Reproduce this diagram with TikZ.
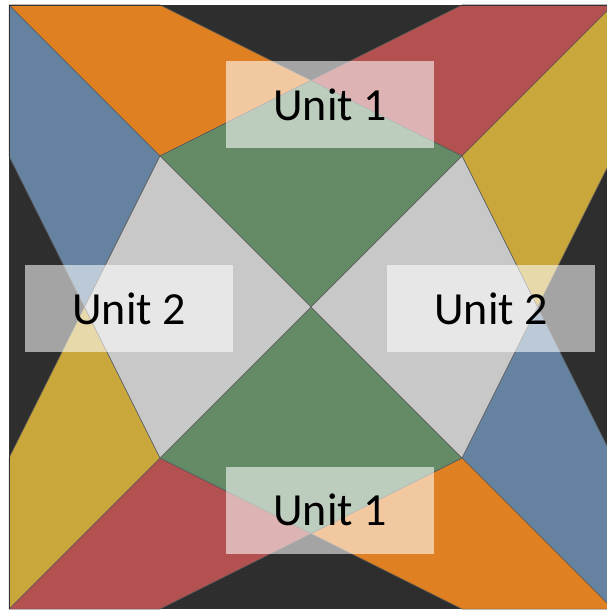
\documentclass[tikz,border=0pt]{standalone}
\usepackage{fontspec}
\setmainfont{Carlito}
\usepackage{tikz}
\usetikzlibrary{positioning}
\definecolor{qdark}{HTML}{2E2E2E}
\definecolor{qorange}{HTML}{DF8022}
\definecolor{qblue}{HTML}{6583A0}
\definecolor{qred}{HTML}{B35050}
\definecolor{qyellow}{HTML}{C9A73A}
\definecolor{qgreen}{HTML}{658B66}
\definecolor{qgray}{HTML}{C8C8C8}

\begin{document}
\begin{tikzpicture}[
  x=1pt, y=-1pt,
  patch/.style={draw=black!65, line width=0.5pt, line join=round},
  unitlbl/.style={fill=white, fill opacity=0.57, text opacity=1, text=black, minimum width=208pt, minimum height=87pt, inner sep=0pt, font=\fontsize{46}{46}\selectfont}
]
  \useasboundingbox (0,0) rectangle (607,610);
  \clip (0,0) rectangle (607,610);

  % block corners and grid points (one unit = 151px)
  \coordinate (tl) at (9,5);      \coordinate (tr) at (613,5);
  \coordinate (bl) at (9,609);    \coordinate (br) at (613,609);
  \coordinate (ctr) at (311,307);
  \coordinate (o1) at (160,156);  \coordinate (o2) at (462,156);
  \coordinate (o3) at (462,458);  \coordinate (o4) at (160,458);
  \coordinate (pt) at (311,80.5); \coordinate (pb) at (311,533.5);
  \coordinate (pl) at (84.5,307); \coordinate (pr) at (537.5,307);

  \fill[qdark] (tl) rectangle (br);

  % outer star points
  \draw[patch, fill=qorange] (tl) -- (160,5) -- (pt) -- (o1) -- cycle;
  \draw[patch, fill=qred] (462,5) -- (tr) -- (o2) -- (pt) -- cycle;
  \draw[patch, fill=qyellow] (tr) -- (613,156) -- (pr) -- (o2) -- cycle;
  \draw[patch, fill=qblue] (613,458) -- (br) -- (o3) -- (pr) -- cycle;
  \draw[patch, fill=qorange] (br) -- (462,609) -- (pb) -- (o3) -- cycle;
  \draw[patch, fill=qred] (160,609) -- (bl) -- (o4) -- (pb) -- cycle;
  \draw[patch, fill=qyellow] (bl) -- (9,458) -- (pl) -- (o4) -- cycle;
  \draw[patch, fill=qblue] (9,156) -- (tl) -- (o1) -- (pl) -- cycle;

  % centre kites
  \draw[patch, fill=qgreen] (o1) -- (pt) -- (o2) -- (ctr) -- cycle;
  \draw[patch, fill=qgreen] (o4) -- (ctr) -- (o3) -- (pb) -- cycle;
  \draw[patch, fill=qgray] (o1) -- (ctr) -- (o4) -- (pl) -- cycle;
  \draw[patch, fill=qgray] (o2) -- (pr) -- (o3) -- (ctr) -- cycle;

  \draw[black!80, line width=0.8pt] (bl) -- (tl) -- (tr);

  \node[unitlbl] (unittop) at (330,104.5) {Unit 1};
  \node[unitlbl] (unitbot) at (330,510) {Unit 1};
  \node[unitlbl] (unitleft) at (129,308.5) {Unit 2};
  \node[unitlbl] (unitright) at (491,308.5) {Unit 2};
\end{tikzpicture}
\end{document}
